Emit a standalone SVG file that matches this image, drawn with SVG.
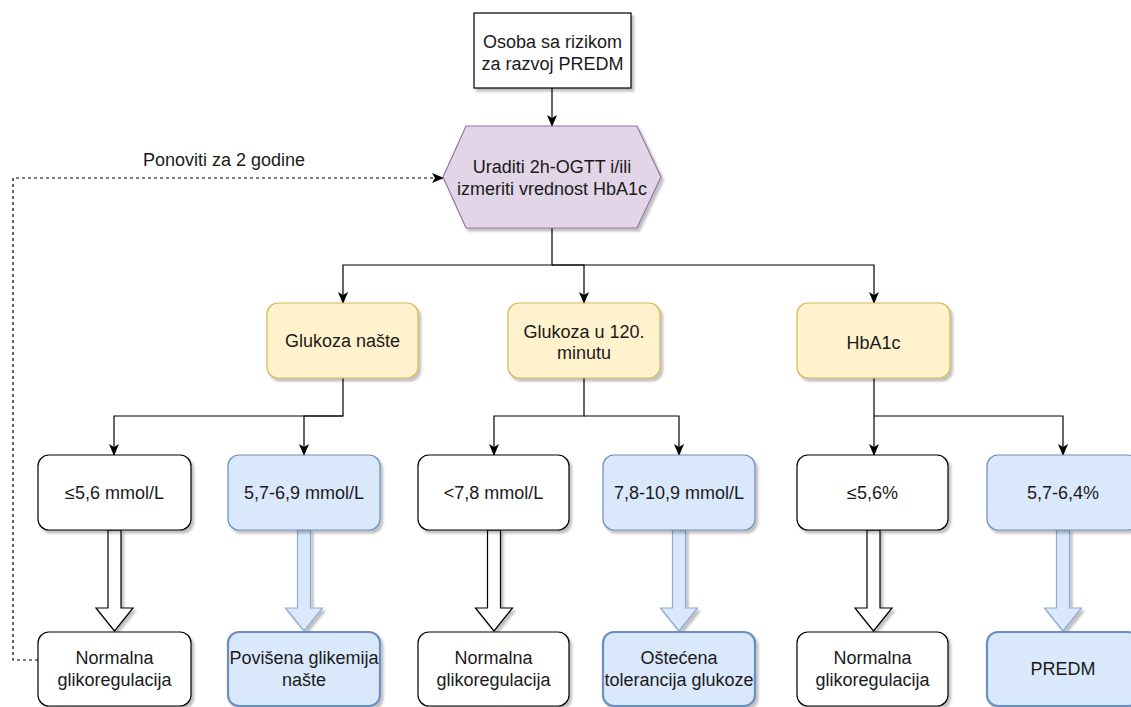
<svg xmlns="http://www.w3.org/2000/svg" width="1131" height="707" viewBox="0 0 1131 707">
<style>
text{font-family:"Liberation Sans",Arial,sans-serif;font-size:18px;fill:#1a1a1a;text-anchor:middle}
.w{fill:#ffffff;stroke:#000000;stroke-width:1.2}
.y{fill:#fff2cc;stroke:#d6b656;stroke-width:1.2}
.p{fill:#e1d5e7;stroke:#9673a6;stroke-width:1.2}
.b{fill:#dae8fc;stroke:#6c8ebf;stroke-width:1.2}
.bb{fill:#dae8fc;stroke:#6c8ebf;stroke-width:2.2}
.c{fill:none;stroke:#000000;stroke-width:1.2}
.d{fill:none;stroke:#000000;stroke-width:1.2;stroke-dasharray:3 3}
.ha{fill:#ffffff;stroke:#000000;stroke-width:1.2}
.ba{fill:#dae8fc;stroke:#8fa9cf;stroke-width:1.2}
.sh{filter:url(#shadow)}
</style>
<defs>
<filter id="shadow" x="-10%" y="-10%" width="130%" height="130%">
<feDropShadow dx="2.5" dy="3" stdDeviation="1.2" flood-color="#000000" flood-opacity="0.25"/>
</filter>
<marker id="arr" viewBox="0 0 12 10" refX="11" refY="5" markerWidth="12" markerHeight="10" markerUnits="userSpaceOnUse" orient="auto">
<path d="M0,0 L12,5 L0,10 L3,5 z" fill="#000000"/>
</marker>
</defs>

<g id="connectors">
<path class="c" d="M552,88 V126" marker-end="url(#arr)"/>
<path class="c" d="M552,228 V265 H343 V303" marker-end="url(#arr)"/>
<path class="c" d="M552,265 H584 V303" marker-end="url(#arr)"/>
<path class="c" d="M552,265 H874 V303" marker-end="url(#arr)"/>
<path class="c" d="M343,378 V416 H114 V455" marker-end="url(#arr)"/>
<path class="c" d="M343,416 H304 V455" marker-end="url(#arr)"/>
<path class="c" d="M584,378 V416 H494 V455" marker-end="url(#arr)"/>
<path class="c" d="M584,416 H679 V455" marker-end="url(#arr)"/>
<path class="c" d="M874,378 V455" marker-end="url(#arr)"/>
<path class="c" d="M874,416 H1063 V455" marker-end="url(#arr)"/>
<path class="d" d="M38,660 H13 V178 H443" marker-end="url(#arr)"/>
<text x="224" y="166">Ponoviti za 2 godine</text>
<path class="ha sh" d="M108,530 H121 V608 H133 L114.5,631 L96,608 H108 Z"/>
<path class="ba sh" d="M297.5,530 H310.5 V608 H322.5 L304,631 L285.5,608 H297.5 Z"/>
<path class="ha sh" d="M487.5,530 H500.5 V608 H512.5 L494,631 L475.5,608 H487.5 Z"/>
<path class="ba sh" d="M672.5,530 H685.5 V608 H697.5 L679,631 L660.5,608 H672.5 Z"/>
<path class="ha sh" d="M867,530 H880 V608 H892 L873.5,631 L855,608 H867 Z"/>
<path class="ba sh" d="M1056.5,530 H1069.5 V608 H1081.5 L1063,631 L1044.5,608 H1056.5 Z"/>
</g>

<g id="start">
<rect class="w sh" x="474" y="13" width="157" height="75"/>
<text x="552.5" y="48">Osoba sa rizikom</text>
<text x="552.5" y="70">za razvoj PREDM</text>
</g>

<g id="test">
<path class="p sh" d="M443,177 L466,126 L637,126 L661,177 L637,228 L466,228 Z"/>
<text x="552" y="173">Uraditi 2h-OGTT i/ili</text>
<text x="552" y="195">izmeriti vrednost HbA1c</text>
</g>

<g id="glukoza-naste">
<rect class="y sh" x="267" y="303" width="151" height="75" rx="11"/>
<text x="342.5" y="347">Glukoza našte</text>
</g>
<g id="glukoza-120">
<rect class="y sh" x="508" y="303" width="152" height="75" rx="11"/>
<text x="584" y="338">Glukoza u 120.</text>
<text x="584" y="359">minutu</text>
</g>
<g id="hba1c">
<rect class="y sh" x="797" y="303" width="153" height="75" rx="11"/>
<text x="873.5" y="349">HbA1c</text>
</g>

<g id="r1">
<rect class="w sh" x="38" y="455" width="153" height="75" rx="11"/>
<text x="114.5" y="499">≤5,6 mmol/L</text>
</g>
<g id="r2">
<rect class="b sh" x="228" y="455" width="152" height="75" rx="11"/>
<text x="304" y="499">5,7-6,9 mmol/L</text>
</g>
<g id="r3">
<rect class="w sh" x="418" y="455" width="151" height="75" rx="11"/>
<text x="493.5" y="499">&lt;7,8 mmol/L</text>
</g>
<g id="r4">
<rect class="b sh" x="603" y="455" width="152" height="75" rx="11"/>
<text x="679" y="499">7,8-10,9 mmol/L</text>
</g>
<g id="r5">
<rect class="w sh" x="797" y="455" width="151" height="75" rx="11"/>
<text x="872.5" y="499">≤5,6%</text>
</g>
<g id="r6">
<rect class="b sh" x="987" y="455" width="152" height="75" rx="11"/>
<text x="1063" y="499">5,7-6,4%</text>
</g>

<g id="o1">
<rect class="w sh" x="38" y="632" width="153" height="74" rx="11"/>
<text x="114.5" y="664">Normalna</text>
<text x="114.5" y="686">glikoregulacija</text>
</g>
<g id="o2">
<rect class="bb sh" x="228" y="632" width="152" height="74" rx="11"/>
<text x="304" y="664">Povišena glikemija</text>
<text x="304" y="686">našte</text>
</g>
<g id="o3">
<rect class="w sh" x="418" y="632" width="151" height="74" rx="11"/>
<text x="493.5" y="664">Normalna</text>
<text x="493.5" y="686">glikoregulacija</text>
</g>
<g id="o4">
<rect class="bb sh" x="603" y="632" width="152" height="74" rx="11"/>
<text x="679" y="664">Oštećena</text>
<text x="679" y="686">tolerancija glukoze</text>
</g>
<g id="o5">
<rect class="w sh" x="797" y="632" width="151" height="74" rx="11"/>
<text x="872.5" y="664">Normalna</text>
<text x="872.5" y="686">glikoregulacija</text>
</g>
<g id="o6">
<rect class="bb sh" x="987" y="632" width="152" height="74" rx="11"/>
<text x="1063" y="675">PREDM</text>
</g>
</svg>
